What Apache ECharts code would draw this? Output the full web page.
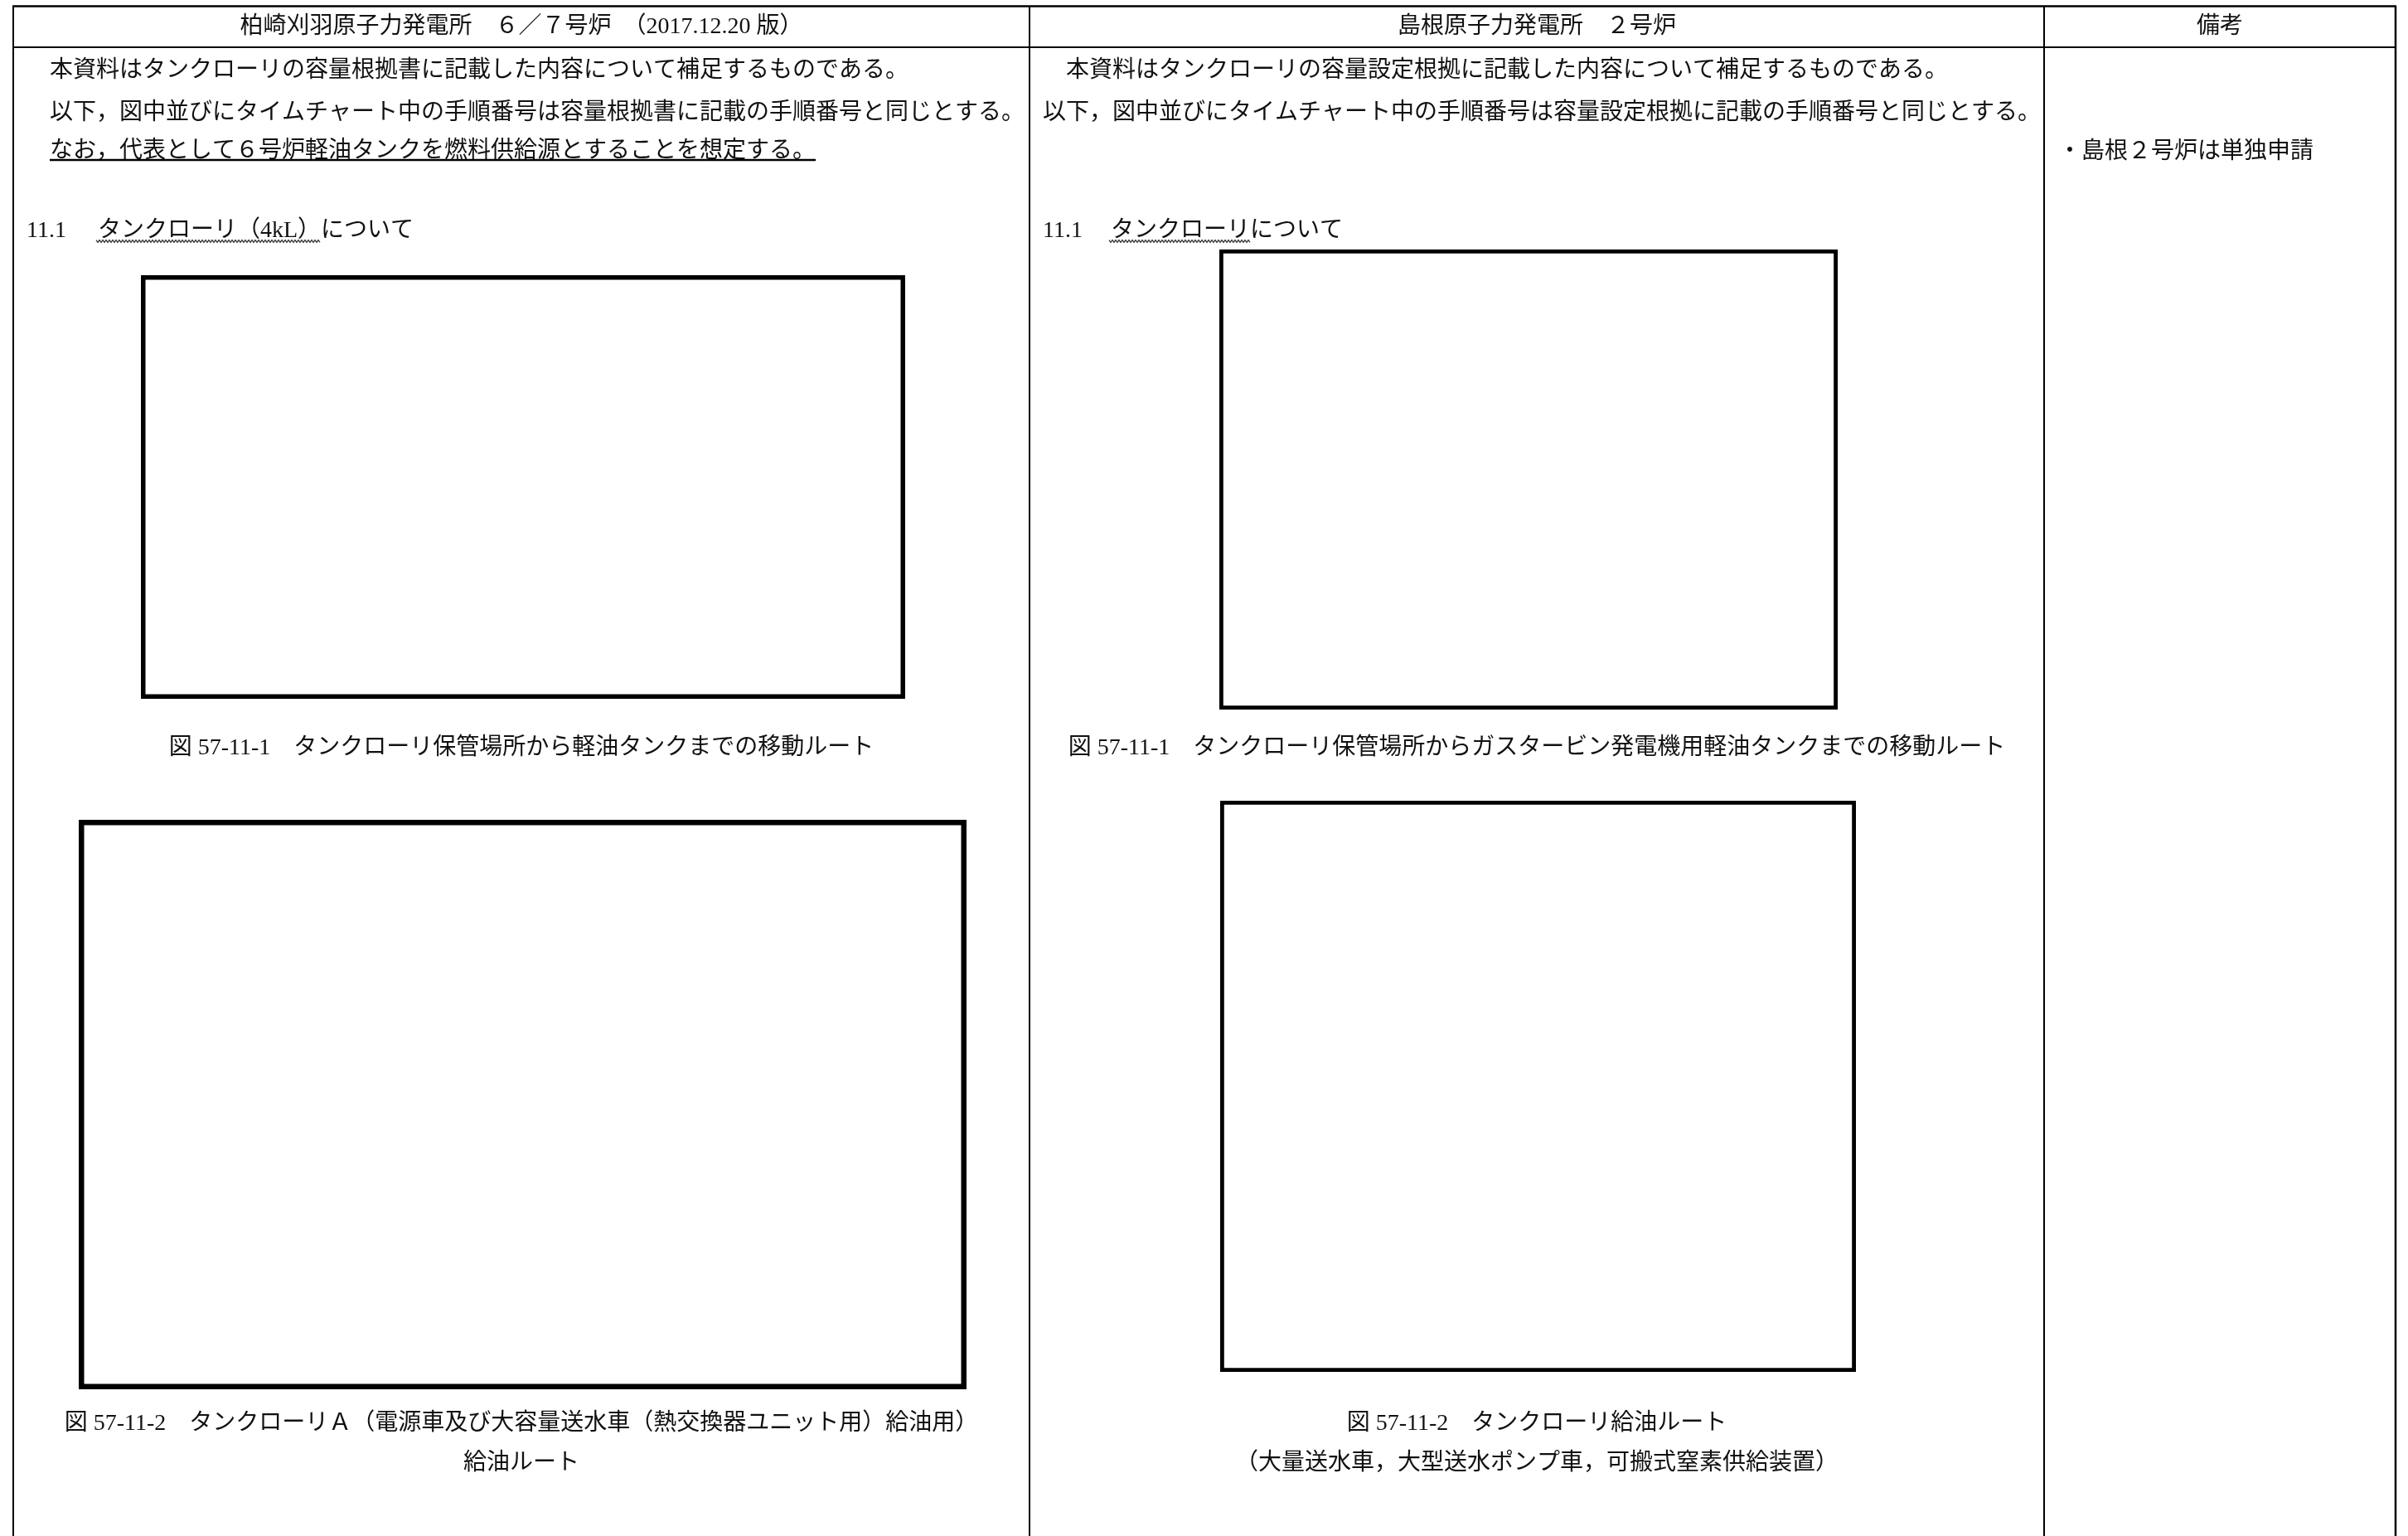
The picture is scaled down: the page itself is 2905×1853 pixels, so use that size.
<!DOCTYPE html>
<html>
<head>
<meta charset="utf-8">
<script src="https://cdn.jsdelivr.net/npm/echarts@6/dist/echarts.min.js"></script>
<style>
html,body{margin:0;padding:0;background:#fff;}
#chart{width:2905px;height:1853px;}
</style>
</head>
<body>
<div id="chart"></div>
<script>
// ---- content (text) ----
const headers = ['柏崎刈羽原子力発電所　６／７号炉　（2017.12.20 版）', '島根原子力発電所　２号炉', '備考'];
const kkLines = [
  '本資料はタンクローリの容量根拠書に記載した内容について補足するものである。',
  '以下，図中並びにタイムチャート中の手順番号は容量根拠書に記載の手順番号と同じとする。',
  'なお，代表として６号炉軽油タンクを燃料供給源とすることを想定する。'
];
const shLines = [
  '本資料はタンクローリの容量設定根拠に記載した内容について補足するものである。',
  '以下，図中並びにタイムチャート中の手順番号は容量設定根拠に記載の手順番号と同じとする。'
];
const sectionNo = '11.1';
const kkSection = ['タンクローリ（4kL）', 'について'];
const shSection = ['タンクローリ', 'について'];
const kkCaptions = [
  ['図 57-11-1　タンクローリ保管場所から軽油タンクまでの移動ルート'],
  ['図 57-11-2　タンクローリＡ（電源車及び大容量送水車（熱交換器ユニット用）給油用）', '給油ルート']
];
const shCaptions = [
  ['図 57-11-1　タンクローリ保管場所からガスタービン発電機用軽油タンクまでの移動ルート'],
  ['図 57-11-2　タンクローリ給油ルート', '（大量送水車，大型送水ポンプ車，可搬式窒素供給装置）']
];
const remarks = ['・島根２号炉は単独申請'];

// ---- layout (positions / sizes / styles) ----
const W = 2905, H = 1853;
const FONT_SIZE = 28;
const FONT_FAMILY = "'Liberation Serif','Noto Sans CJK JP',serif";
const FONT = FONT_SIZE + 'px ' + FONT_FAMILY;
const INK = '#111';
const table = { left: 16, right: 2890, top: 7.5, headBottom: 57, cols: [1242, 2466] };
const headerY = 33;
const body = {
  kk: { x: [60, 60, 60], y: [86, 137, 182.5], underlineIdx: 2, underlineY: 193 },
  sh: { x: [1286, 1258], y: [86, 137] },
  remark: { x: 2483, y: 184 },
  section: { y: 279, kkNoX: 32, kkX: 118, shNoX: 1258, shX: 1340, waveY: 291 }
};
const figures = {
  kk: [ { l: 170, t: 332, r: 1092, b: 843, lw: 5.5 }, { l: 95, t: 989, r: 1166, b: 1676, lw: 6.5 } ],
  sh: [ { l: 1471, t: 301, r: 2217, b: 856, lw: 4.8 }, { l: 1472, t: 966, r: 2239, b: 1655, lw: 4.8 } ]
};
const captionLayout = {
  kkX: 629, shX: 1854,
  y: [[903], [1718, 1766]]
};

// ---- helpers ----
const measureCtx = document.createElement('canvas').getContext('2d');
function textWidth(t) { measureCtx.font = FONT; return measureCtx.measureText(t).width; }

function txt(text, x, y, align) {
  return { type: 'text', silent: true, style: { text: text, x: x, y: y, font: FONT, fill: INK, textAlign: align || 'left', textVerticalAlign: 'middle' } };
}
function line(x1, y1, x2, y2, lw, color) {
  return { type: 'line', silent: true, shape: { x1: x1, y1: y1, x2: x2, y2: y2 }, style: { stroke: color || '#000', lineWidth: lw } };
}
function wave(x1, x2, y) {
  const pts = [];
  const step = 2;
  let up = true;
  for (let x = x1; x <= x2; x += step) { pts.push([x, y + (up ? -1.4 : 1.4)]); up = !up; }
  return { type: 'polyline', silent: true, shape: { points: pts }, style: { stroke: '#333', lineWidth: 1.2, fill: null } };
}
function frame(f) {
  const h = f.lw / 2;
  return { type: 'rect', silent: true, shape: { x: f.l + h, y: f.t + h, width: f.r - f.l - f.lw, height: f.b - f.t - f.lw },
           style: { fill: '#fff', stroke: '#000', lineWidth: f.lw } };
}

const els = [];
// table grid
els.push(line(table.left - 1, table.top, table.right + 1, table.top, 2.5));
els.push(line(table.left, table.headBottom, table.right, table.headBottom, 2));
els.push(line(table.left, table.top, table.left, H, 2));
els.push(line(table.right, table.top, table.right, H, 2.5));
table.cols.forEach(c => els.push(line(c, table.top, c, H, 2)));

// headers
const colCenters = [(table.left + table.cols[0]) / 2, (table.cols[0] + table.cols[1]) / 2, (table.cols[1] + table.right) / 2];
headers.forEach((h, i) => els.push(txt(h, colCenters[i], headerY, 'center')));

// body text col 1
kkLines.forEach((t, i) => {
  els.push(txt(t, body.kk.x[i], body.kk.y[i]));
  if (i === body.kk.underlineIdx) {
    els.push(line(body.kk.x[i], body.kk.underlineY, body.kk.x[i] + textWidth(t), body.kk.underlineY, 2.6));
  }
});
// body text col 2
shLines.forEach((t, i) => els.push(txt(t, body.sh.x[i], body.sh.y[i])));
// remarks
remarks.forEach((t, i) => els.push(txt(t, body.remark.x, body.remark.y + i * 48)));

// section titles
const s = body.section;
els.push(txt(sectionNo, s.kkNoX, s.y));
els.push(txt(kkSection[0], s.kkX, s.y));
els.push(txt(kkSection[1], s.kkX + textWidth(kkSection[0]), s.y));
els.push(wave(s.kkX - 2, s.kkX + textWidth(kkSection[0]), s.waveY));
els.push(txt(sectionNo, s.shNoX, s.y));
els.push(txt(shSection[0], s.shX, s.y));
els.push(txt(shSection[1], s.shX + textWidth(shSection[0]), s.y));
els.push(wave(s.shX - 2, s.shX + textWidth(shSection[0]), s.waveY));

// figure frames
figures.kk.forEach(f => els.push(frame(f)));
figures.sh.forEach(f => els.push(frame(f)));

// captions
kkCaptions.forEach((cap, i) => cap.forEach((t, j) => els.push(txt(t, captionLayout.kkX, captionLayout.y[i][j], 'center'))));
shCaptions.forEach((cap, i) => cap.forEach((t, j) => els.push(txt(t, captionLayout.shX, captionLayout.y[i][j], 'center'))));

const chart = echarts.init(document.getElementById('chart'), null, { renderer: 'canvas', width: W, height: H });
chart.setOption({
  backgroundColor: '#fff',
  animation: false,
  graphic: { elements: els }
});
</script>
</body>
</html>
